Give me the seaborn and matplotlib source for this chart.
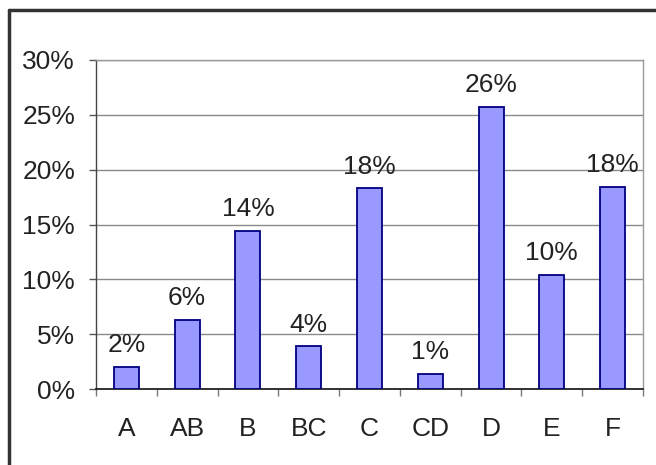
import matplotlib
matplotlib.use("Agg")
import matplotlib.pyplot as plt
import seaborn as sns
from matplotlib.lines import Line2D
from matplotlib.ticker import FuncFormatter, FixedLocator

# Data
grades = ["A", "AB", "B", "BC", "C", "CD", "D", "E", "F"]
shares = [2.0, 6.3, 14.4, 3.9, 18.3, 1.4, 25.7, 10.4, 18.4]

sns.set_style("white")
plt.rcParams["font.family"] = ["Liberation Sans", "DejaVu Sans"]

fig = plt.figure(figsize=(6.56, 4.65), dpi=100)
ax = fig.add_axes([0.1463, 0.1634, 0.9802 - 0.1463, 0.871 - 0.1634])

sns.barplot(x=grades, y=shares, color="#9999FF", saturation=1, width=0.41,
            edgecolor="#000080", linewidth=1.3, ax=ax, zorder=3)

ax.set_ylim(0, 30)
ax.set_xlim(-0.5, len(grades) - 0.5)
ax.set_yticks(range(0, 31, 5))
ax.yaxis.set_major_formatter(FuncFormatter(lambda v, p: f"{v:.0f}%"))
ax.grid(axis="y", color="#8a8a8a", linewidth=1, zorder=0)

# category labels at centres, tick marks at boundaries
ax.xaxis.set_major_locator(FixedLocator([i - 0.5 for i in range(len(grades) + 1)]))
ax.xaxis.set_minor_locator(FixedLocator(range(len(grades))))
ax.set_xticklabels([""] * (len(grades) + 1))
ax.set_xticklabels(grades, minor=True)
ax.tick_params(axis="x", which="major", length=5, width=1, color="#777777", direction="out", bottom=True)
ax.tick_params(axis="x", which="minor", length=0, pad=20, labelsize=19, labelcolor="#222222")
ax.tick_params(axis="y", length=5, width=1, color="#555555", direction="out", left=True,
               pad=10, labelsize=19, labelcolor="#222222")

for side in ["top", "right"]:
    ax.spines[side].set_color("#999999")
    ax.spines[side].set_linewidth(1)
ax.spines["left"].set_color("#444444")
ax.spines["bottom"].set_color("#222222")
ax.spines["left"].set_linewidth(1)
ax.spines["bottom"].set_linewidth(1.3)

ax.bar_label(ax.containers[0], labels=[f"{v:.0f}%" for v in shares], padding=7,
             fontsize=19, color="#222222")

ax.set_xlabel("")
ax.set_ylabel("")

# outer chart frame (left and top edges visible)
fig.add_artist(Line2D([9 / 656, 9 / 656], [0, 1 - 10 / 465], transform=fig.transFigure,
                      color="#333333", linewidth=2.5))
fig.add_artist(Line2D([9 / 656, 1], [1 - 10 / 465, 1 - 10 / 465], transform=fig.transFigure,
                      color="#333333", linewidth=2.5))

fig.savefig("out.png", dpi=100)
